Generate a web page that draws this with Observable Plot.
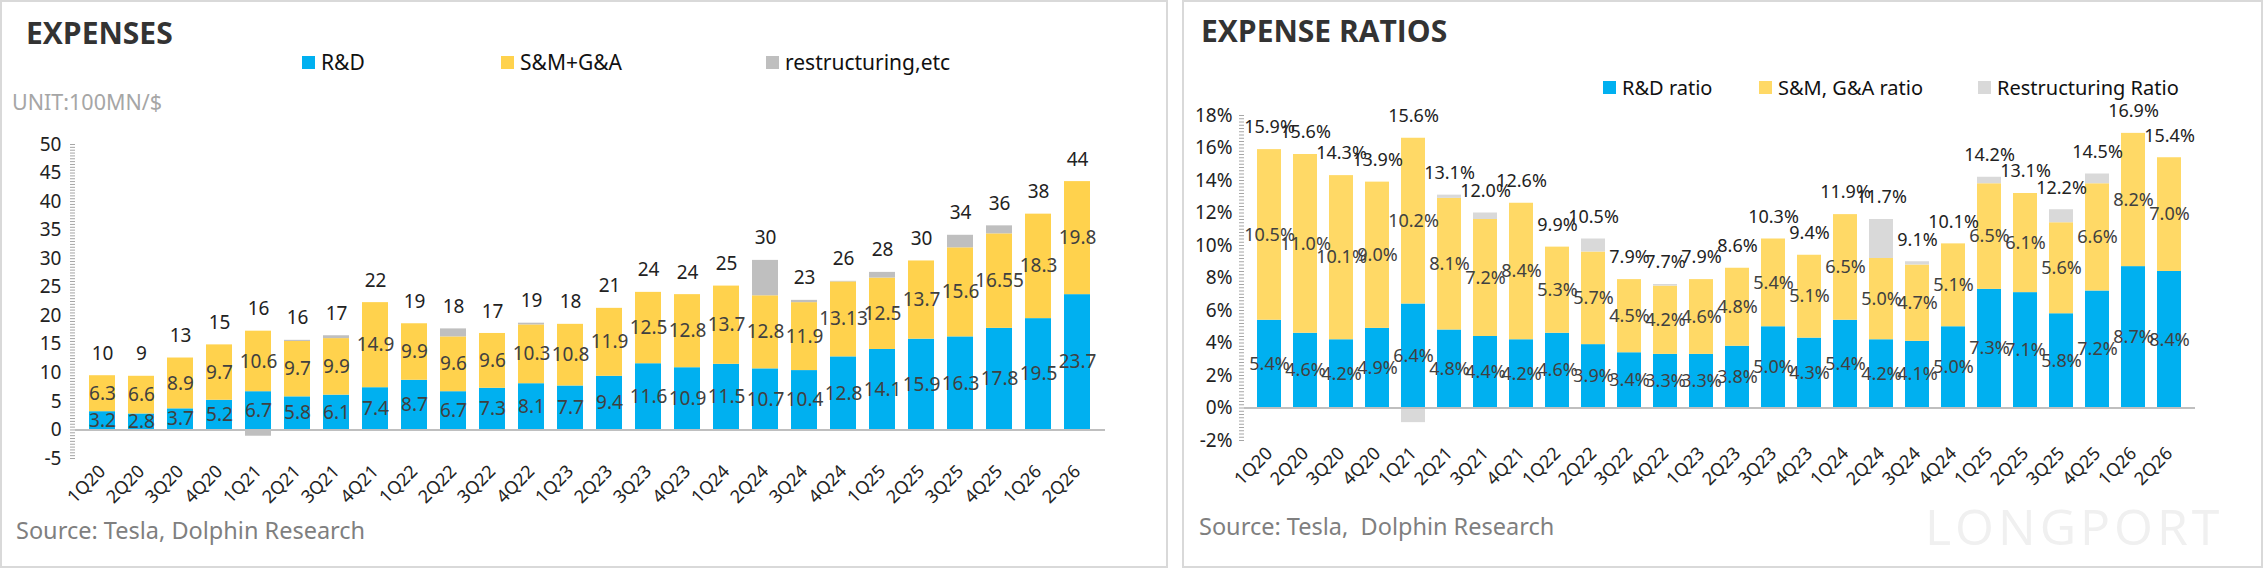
<!DOCTYPE html>
<html><head><meta charset="utf-8">
<script src="https://cdn.jsdelivr.net/npm/d3@7"></script>
<script src="https://cdn.jsdelivr.net/npm/@observablehq/plot@0.6"></script>
<style>
body{margin:0;width:2263px;height:568px;position:relative;background:#fff;font-family:"Noto Sans",sans-serif;overflow:hidden}
.panel{position:absolute;top:0;height:564px;border:2px solid #D9D9D9;box-sizing:content-box}
.abs{position:absolute;white-space:nowrap}
.title{font-family:"Open Sans";font-weight:700;font-size:30px;color:#333}
.leg{font-size:21px;color:#111;display:flex;align-items:center}
.sw{width:13px;height:13px;display:inline-block;margin-right:6px}
.src{font-size:23.5px;color:#7f7f7f}
.plot{position:absolute;top:0}
</style></head><body>
<div class="panel" style="left:0;width:1164px"></div>
<div class="panel" style="left:1182px;width:1077px"></div>
<div class="abs title" style="left:26px;top:12px">EXPENSES</div>
<div class="abs leg" style="left:302px;top:48px"><span class="sw" style="background:#00B0F0"></span>R&amp;D</div>
<div class="abs leg" style="left:501px;top:48px"><span class="sw" style="background:#FFD24D"></span>S&amp;M+G&amp;A</div>
<div class="abs leg" style="left:766px;top:48px"><span class="sw" style="background:#BFBFBF"></span>restructuring,etc</div>
<div class="abs" style="left:12px;top:87px;font-size:21.5px;color:#A6A6A6">UNIT:100MN/$</div>
<div class="abs src" style="left:16px;top:514px">Source: Tesla, Dolphin Research</div>
<div class="abs title" style="left:1201px;top:10px">EXPENSE RATIOS</div>
<div class="abs leg" style="left:1603px;top:74px;font-size:20px"><span class="sw" style="background:#00B0F0"></span>R&amp;D ratio</div>
<div class="abs leg" style="left:1759px;top:74px;font-size:20px"><span class="sw" style="background:#FFD966"></span>S&amp;M, G&amp;A ratio</div>
<div class="abs leg" style="left:1978px;top:74px;font-size:20px"><span class="sw" style="background:#D9D9D9"></span>Restructuring Ratio</div>
<div class="abs src" style="left:1199px;top:510px">Source: Tesla,&nbsp; Dolphin Research</div>
<div class="abs" style="left:1925px;top:492px;font-size:50px;color:#F0F0F0;letter-spacing:4px;font-family:'Open Sans'">LONGPORT</div>
<div id="left" class="plot" style="left:0"></div>
<div id="right" class="plot" style="left:1184px"></div>
<script>
const quarters=["1Q20","2Q20","3Q20","4Q20","1Q21","2Q21","3Q21","4Q21","1Q22","2Q22","3Q22","4Q22","1Q23","2Q23","3Q23","4Q23","1Q24","2Q24","3Q24","4Q24","1Q25","2Q25","3Q25","4Q25","1Q26","2Q26"];
const rd=[3.2,2.8,3.7,5.2,6.7,5.8,6.1,7.4,8.7,6.7,7.3,8.1,7.7,9.4,11.6,10.9,11.5,10.7,10.4,12.8,14.1,15.9,16.3,17.8,19.5,23.7];
const sga=[6.3,6.6,8.9,9.7,10.6,9.7,9.9,14.9,9.9,9.6,9.6,10.3,10.8,11.9,12.5,12.8,13.7,12.8,11.9,13.13,12.5,13.7,15.6,16.55,18.3,19.8];
const sgaLabels=["6.3","6.6","8.9","9.7","10.6","9.7","9.9","14.9","9.9","9.6","9.6","10.3","10.8","11.9","12.5","12.8","13.7","12.8","11.9","13.13","12.5","13.7","15.6","16.55","18.3","19.8"];
const restr=[0,0,0,0,-1.1,0.2,0.5,0,0,1.4,0,0.3,0,0,0,0,0,6.2,0.4,0.1,1.0,0,2.2,1.4,0,0];
const totals=[10,9,13,15,16,16,17,22,19,18,17,19,18,21,24,24,25,30,23,26,28,30,34,36,38,44];
const rdRatio=[5.4,4.6,4.2,4.9,6.4,4.8,4.4,4.2,4.6,3.9,3.4,3.3,3.3,3.8,5.0,4.3,5.4,4.2,4.1,5.0,7.3,7.1,5.8,7.2,8.7,8.4];
const sgaRatio=[10.5,11.0,10.1,9.0,10.2,8.1,7.2,8.4,5.3,5.7,4.5,4.2,4.6,4.8,5.4,5.1,6.5,5.0,4.7,5.1,6.5,6.1,5.6,6.6,8.2,7.0];
const restrRatio=[0,0,0,0,-0.9,0.2,0.4,0,0,0.8,0,0.1,0,0,0,0,0,2.4,0.2,0,0.4,0,0.8,0.6,0,0];
const totalRatio=[15.9,15.6,14.3,13.9,15.6,13.1,12.0,12.6,9.9,10.5,7.9,7.7,7.9,8.6,10.3,9.4,11.9,11.7,9.1,10.1,14.2,13.1,12.2,14.5,16.9,15.4];

function build(cfg){
  const {a,b,c,aLab,bLab,totLab,colors,domain,ticks,minor,fmt,width,mt,mb,ml,mr,tickPad,fs}=cfg;
  const rows=[];
  quarters.forEach((q,i)=>{
    rows.push({q,s:"a",v:a[i],lab:aLab[i]});
    rows.push({q,s:"b",v:b[i],lab:bLab[i]});
    rows.push({q,s:"c",v:c[i],lab:""});
  });
  const tops=quarters.map((q,i)=>({q,top:a[i]+b[i]+Math.max(0,c[i]),lab:totLab[i]}));
  return Plot.plot({
    width,height:568,marginTop:mt,marginBottom:mb,marginLeft:ml,marginRight:mr,
    style:{fontFamily:"Noto Sans",fontSize:"18px",color:"#222",background:"transparent"},
    x:{domain:quarters,padding:0.33,label:null},
    y:{domain,label:null},
    color:{domain:["a","b","c"],range:colors},
    marks:[
      Plot.axisY({ticks:minor,tickSize:5,tickFormat:()=>"",stroke:"#A6A6A6"}),
      Plot.axisY({ticks,tickSize:0,tickPadding:tickPad,tickFormat:fmt,fontSize:19,fill:"#222"}),
      Plot.barY(rows,Plot.stackY({x:"q",y:"v",fill:"s",z:"s",order:["a","b","c"]})),
      Plot.ruleY([0],{stroke:"#BFBFBF",strokeWidth:2}),
      Plot.text(rows,Plot.stackY({x:"q",y:"v",z:"s",order:["a","b","c"],text:"lab",fill:"#404040",fontSize:fs})),
      Plot.text(tops,{x:"q",y:"top",text:"lab",dy:-22,fill:"#222",fontSize:fs}),
      Plot.axisX({tickSize:0,tickRotate:-45,tickPadding:10,fontSize:18,fill:"#222",anchor:"bottom"})
    ]
  });
}
const L=build({a:rd,b:sga,c:restr,aLab:rd.map(String),bLab:sgaLabels,totLab:totals.map(String),
  colors:["#00B0F0","#FFD24D","#BFBFBF"],domain:[-5,50],ticks:d3.range(-5,51,5),minor:d3.range(-5,50.01,0.5),fmt:d=>d,
  width:1168,mt:144,mb:110,ml:75,mr:63,tickPad:14,fs:19});
const R=build({a:rdRatio,b:sgaRatio,c:restrRatio,aLab:rdRatio.map(d=>d.toFixed(1)+"%"),bLab:sgaRatio.map(d=>d.toFixed(1)+"%"),totLab:totalRatio.map(d=>d.toFixed(1)+"%"),
  colors:["#00B0F0","#FFD966","#D9D9D9"],domain:[-2,18],ticks:d3.range(-2,19,2),minor:d3.range(-2,18.01,0.2),fmt:d=>d+"%",
  width:1079,mt:115,mb:128,ml:60,mr:68,tickPad:12,fs:18});
document.getElementById("left").appendChild(L);
document.getElementById("right").appendChild(R);
</script></body></html>
